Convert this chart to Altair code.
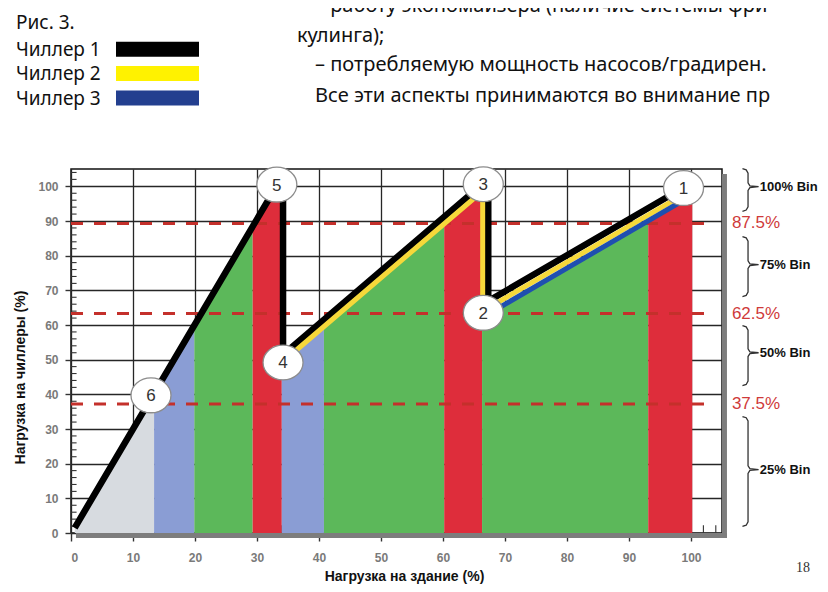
import altair as alt
import pandas as pd

# ---------------- values ----------------
# chiller load curves: building load (%) -> chiller load (%)
chillers = ["Чиллер 1", "Чиллер 2", "Чиллер 3"]
chiller_colors = ["#000000", "#f6d83a", "#1f4fb0"]      # as drawn on the curves
legend_colors = ["#000000", "#fff200", "#233f8f"]       # as printed in the key
chiller_widths = [6.5, 5.0, 5.0]
chiller1_x = [0.6, 32.3, 34.2, 34.2, 64.5, 67.3, 67.3, 97.5]
chiller1_y = [1.5, 97.5, 97.5, 51.4, 97.8, 97.8, 66.9, 98.3]
chiller2_x = [35.0, 65.3, 66.4, 66.4, 98.3]
chiller2_y = [50.7, 97.0, 97.0, 64.0, 97.1]
chiller3_x = [68.0, 99.0]
chiller3_y = [63.9, 96.2]

# coloured zones under the curves
zone_ids = ["z1", "z2", "z3", "z4", "z5", "z6", "z7", "z8", "z9"]
zone_kinds = ["gray", "blue", "green", "red", "blue", "green", "red", "green", "red"]
zone_x = [[0.6, 13.4], [13.4, 19.9], [19.9, 29.3], [29.3, 32.3, 34.0],
          [34.0, 40.8], [40.8, 60.2], [60.2, 65.3, 66.3],
          [66.3, 68.0, 93.1], [93.1, 99.0, 100.2]]
zone_y = [[1.5, 40.3], [40.3, 60.0], [60.0, 88.5], [88.5, 97.5, 97.5],
          [49.2, 59.6], [59.6, 89.2], [89.2, 97.0, 97.0],
          [63.9, 63.9, 90.1], [90.1, 96.2, 96.2]]
kind_names = ["gray", "blue", "green", "red"]
kind_colors = ["#d7dbe0", "#8a9dd4", "#5cb85a", "#de2d3b"]

# bin thresholds (dashed lines) and bins
threshold_values = [89.3, 63.3, 37.2]
threshold_labels = ["87.5%", "62.5%", "37.5%"]
bin_labels = ["100% Bin", "75% Bin", "50% Bin", "25% Bin"]
bin_top = [105.1, 85.5, 59.8, 33.6]
bin_bottom = [92.8, 68.2, 42.5, 1.9]
bin_mid = [99.9, 77.4, 52.0, 18.3]

# numbered operating points
point_labels = ["1", "2", "3", "4", "5", "6"]
point_x = [98.8, 66.5, 66.5, 34.2, 33.2, 12.9]
point_y = [99.5, 63.5, 100.6, 49.2, 100.5, 39.7]

x_ticks = list(range(0, 101, 10))
y_ticks = list(range(0, 101, 10))
minor_ticks = [v for v in range(2, 105, 2) if v % 10]

figure_caption = "Рис. 3."
header_lines = [
    ("– работу экономайзера (наличие системы фри", 244, -157),
    ("кулинга);", 226, -127),
    ("– потребляемую мощность насосов/градирен.", 244, -98),
    ("Все эти аспекты принимаются во внимание пр", 244, -67),
]

# ---------------- tables ----------------
zrows = []
for zid, kind, xs_, ys_ in zip(zone_ids, zone_kinds, zone_x, zone_y):
    for a, b in zip(xs_, ys_):
        zrows.append({"zone": zid, "kind": kind, "x": a, "y": b})
zones_df = pd.DataFrame(zrows)

thr_df = pd.DataFrame({"v": threshold_values, "label": threshold_labels,
                       "x0": [0.0] * 3, "x1": [103.5] * 3, "xt": [106.6] * 3})
bins_df = pd.DataFrame({"label": bin_labels, "mid": bin_mid, "xt": [111.1] * 4})

brow = []
for lab, t, b, m in zip(bin_labels, bin_top, bin_bottom, bin_mid):
    shape = [(108.3, t), (108.9, t - 0.35), (109.2, t - 1.3), (109.2, m + 1.1),
             (109.5, m + 0.25), (110.9, m), (109.5, m - 0.25), (109.2, m - 1.1),
             (109.2, b + 1.3), (108.9, b + 0.35), (108.3, b)]
    for i, (a, c) in enumerate(shape):
        brow.append({"bin": lab, "i": i, "x": a, "y": c})
brace_df = pd.DataFrame(brow)

pts_df = pd.DataFrame({"label": point_labels, "x": point_x, "y": point_y})
minor_df = pd.DataFrame({"v": minor_ticks, "a": [0.0] * len(minor_ticks),
                         "b_x": [0.9] * len(minor_ticks), "b_y": [2.2] * len(minor_ticks)})

# ---------------- scales & axes ----------------
xs = alt.Scale(domain=[0, 105], nice=False, zero=False)
ys = alt.Scale(domain=[0, 105], nice=False, zero=False)

LAB_FONT = "Liberation Sans"

x_axis = alt.Axis(values=x_ticks, title="Нагрузка на здание (%)", grid=True,
                  gridColor="#262626", gridWidth=1.3, domain=False,
                  tickSize=8, tickColor="#333", tickWidth=1.4,
                  labelFont=LAB_FONT, labelFontSize=12, labelColor="#7a7a7a",
                  labelFontWeight="bold", labelPadding=11,
                  titleFont=LAB_FONT, titleFontSize=14, titleFontWeight="bold",
                  titleColor="#111", titleX=333, titleY=36, titleAlign="center",
                  titleBaseline="top")
y_axis = alt.Axis(values=y_ticks, title="Нагрузка на чиллеры (%)", grid=True,
                  gridColor="#262626", gridWidth=1.3, domain=False,
                  tickSize=6, tickColor="#333", tickWidth=1.4,
                  labelFont=LAB_FONT, labelFontSize=12, labelColor="#7a7a7a",
                  labelFontWeight="bold", labelPadding=7,
                  titleFont=LAB_FONT, titleFontSize=14, titleFontWeight="bold",
                  titleColor="#111", titleAngle=270, titleX=-51, titleY=208,
                  titleAlign="center", titleBaseline="middle")


def X(field):
    return alt.X(field, scale=xs, axis=x_axis)


def Y(field, **kw):
    return alt.Y(field, scale=ys, axis=y_axis, **kw)


# minor ticks (under the zones)
minor_left = alt.Chart(minor_df).mark_rule(color="#333", strokeWidth=1.1).encode(
    y=Y("v:Q"), x=X("a:Q"), x2="b_x:Q")
minor_bottom = alt.Chart(minor_df).mark_rule(color="#333", strokeWidth=1.1).encode(
    x=X("v:Q"), y=Y("a:Q"), y2="b_y:Q")

# frame drop shadow
shadow_df = pd.DataFrame({"x": [105.0, 0.8], "x2": [105.8, 105.8],
                          "y": [-1.45, -1.45], "y2": [103.55, 0.0]})
shadow = alt.Chart(shadow_df).mark_rect(color="#7d7d7d").encode(
    x=X("x:Q"), x2="x2:Q", y=Y("y:Q"), y2="y2:Q")

zones = alt.Chart(zones_df).mark_area(opacity=1, interpolate="linear").encode(
    x=X("x:Q"),
    y=Y("y:Q", stack=None),
    fill=alt.Fill("kind:N", scale=alt.Scale(domain=kind_names, range=kind_colors), legend=None),
    detail="zone:N",
)

dashes = alt.Chart(thr_df).mark_rule(color="#c4302b", strokeWidth=3, strokeDash=[12, 11]).encode(
    y=Y("v:Q"), x=X("x0:Q"), x2="x1:Q")
dash_text = alt.Chart(thr_df).mark_text(align="left", baseline="middle", font=LAB_FONT,
                                         fontSize=17, color="#cf3a3a").encode(
    y=Y("v:Q"), x=X("xt:Q"), text="label:N")

# chiller curves, one layer per chiller
curve_layers = []
for name, cx, cy, col, w in zip(chillers, [chiller1_x, chiller2_x, chiller3_x],
                                [chiller1_y, chiller2_y, chiller3_y],
                                chiller_colors, chiller_widths):
    df = pd.DataFrame({"x": cx, "y": cy, "i": list(range(len(cx))), "chiller": name})
    curve_layers.append(alt.Chart(df).mark_line(color=col, strokeWidth=w, strokeCap="butt",
                                                strokeJoin="miter").encode(
        x=X("x:Q"), y=Y("y:Q"), order=alt.Order("i:Q")))

# key (label + swatch) for the chillers
legend_layers = []
for k, (name, col) in enumerate(zip(chillers, legend_colors)):
    one = pd.DataFrame({"t": [name]})
    top = -127.3 + 24.4 * k
    legend_layers.append(alt.Chart(one).mark_rect(color=col).encode(
        x=alt.value(45), x2=alt.value(128), y=alt.value(top), y2=alt.value(top + 15)))
    legend_layers.append(alt.Chart(one).mark_text(
        align="left", baseline="alphabetic", font="Noto Sans", fontSize=19, color="#111").encode(
        x=alt.value(-55), y=alt.value(top + 14), text="t:N"))

ellipse = "M-1,0A1,0.87,0,1,0,1,0A1,0.87,0,1,0,-1,0Z"
circles = alt.Chart(pts_df).mark_point(shape=ellipse, size=1600, filled=True, fill="white",
                                       stroke="#8c8c8c", strokeWidth=1.3, opacity=1).encode(
    x=X("x:Q"), y=Y("y:Q"))
circle_text = alt.Chart(pts_df).mark_text(font=LAB_FONT, fontSize=17, color="#333",
                                          baseline="middle", dy=1).encode(
    x=X("x:Q"), y=Y("y:Q"), text="label:N")

braces = alt.Chart(brace_df).mark_line(color="#333", strokeWidth=1.3).encode(
    x=X("x:Q"), y=Y("y:Q"), detail="bin:N", order=alt.Order("i:Q"))
bin_text = alt.Chart(bins_df).mark_text(align="left", baseline="middle", font=LAB_FONT,
                                         fontSize=13, fontWeight="bold", color="#111").encode(
    x=X("xt:Q"), y=Y("mid:Q"), text="label:N")

caption = alt.Chart(pd.DataFrame({"t": [figure_caption]})).mark_text(
    align="left", baseline="alphabetic", font="Noto Sans", fontSize=19, color="#111").encode(
    x=alt.value(-55), y=alt.value(-140), text="t:N")

header = []
for txt, px, py in header_lines:
    header.append(alt.Chart(pd.DataFrame({"t": [txt]})).mark_text(
        align="left", baseline="alphabetic", font="Noto Sans", fontSize=20, color="#111").encode(
        x=alt.value(px), y=alt.value(py), text="t:N"))

page_no = alt.Chart(pd.DataFrame({"t": ["18"]})).mark_text(
    align="center", baseline="middle", font="Liberation Serif", fontSize=14, color="#333").encode(
    x=alt.value(732), y=alt.value(399), text="t:N")

chart = alt.layer(minor_left, minor_bottom, shadow, zones, dashes, *curve_layers, circles,
                  circle_text, braces, bin_text, dash_text, page_no, caption,
                  *legend_layers, *header).properties(
    width=651, height=364,
    padding={"left": 63, "top": 161, "right": 98, "bottom": 51},
    autosize=alt.AutoSizeParams(type="none"),
).configure_view(stroke="#111", strokeWidth=1.5)

chart.save("out.html", embed_options={"renderer": "svg", "actions": False})
